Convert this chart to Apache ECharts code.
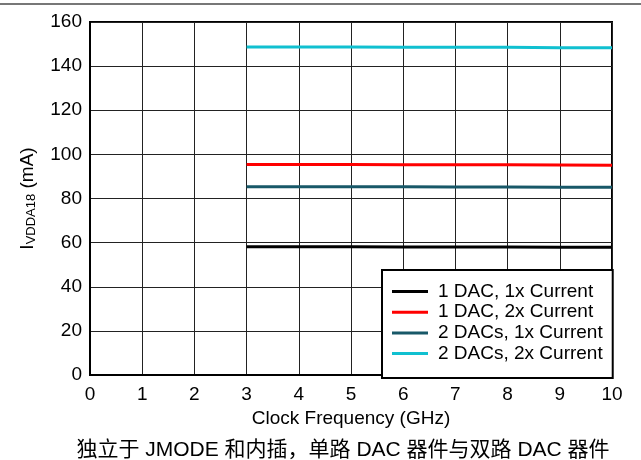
<!DOCTYPE html>
<html>
<head>
<meta charset="utf-8">
<script src="https://cdn.jsdelivr.net/npm/echarts@6/dist/echarts.min.js"></script>
<style>html,body{margin:0;padding:0;background:#fff;}#c{width:641px;height:460px;}</style>
</head>
<body>
<div id="c"></div>
<script>
const freqGHz = [3, 4, 5, 6, 7, 8, 9, 10];
const oneDac1x = [58.1, 58.1, 58.1, 58.0, 58.0, 58.0, 57.9, 57.9];
const oneDac2x = [95.4, 95.4, 95.4, 95.3, 95.3, 95.3, 95.2, 95.1];
const twoDac1x = [85.3, 85.3, 85.3, 85.3, 85.2, 85.2, 85.1, 85.1];
const twoDac2x = [148.7, 148.7, 148.7, 148.6, 148.5, 148.5, 148.3, 148.3];
const seriesNames = ['1 DAC, 1x Current', '1 DAC, 2x Current', '2 DACs, 1x Current', '2 DACs, 2x Current'];
const seriesColors = ['#000000', '#ff0000', '#185868', '#10c0d0'];
const caption = '独立于 JMODE 和内插，单路 DAC 器件与双路 DAC 器件';

const allData = [oneDac1x, oneDac2x, twoDac1x, twoDac2x];
const font = 'Arial, "Liberation Sans", sans-serif';
const fs = 19;
const chart = echarts.init(document.getElementById('c'));
chart.setOption({
  animation: false,
  backgroundColor: '#fff',
  grid: { left: 90, top: 22, width: 522, height: 353, show: true, borderColor: '#000', borderWidth: 2, backgroundColor: 'transparent' },
  xAxis: {
    type: 'value', min: 0, max: 10, interval: 1,
    name: 'Clock Frequency (GHz)', nameLocation: 'middle', nameGap: 24,
    nameTextStyle: { fontFamily: font, fontSize: fs, color: '#000' },
    axisLine: { show: true, lineStyle: { color: '#000', width: 2 } },
    axisTick: { show: false },
    axisLabel: { fontFamily: font, fontSize: fs, color: '#000', margin: 10 },
    splitLine: { show: true, lineStyle: { color: '#222', width: 1 } }
  },
  yAxis: {
    type: 'value', min: 0, max: 160, interval: 20,
    name: '{n|I}{s|VDDA18}{n| (mA)}', nameLocation: 'middle', nameGap: 52,
    nameTextStyle: { rich: { n: { fontFamily: font, fontSize: fs, color: '#000' }, s: { fontFamily: font, fontSize: 13, color: '#000', verticalAlign: 'bottom', padding: [7, 0, 0, 0] } } },
    axisLine: { show: true, lineStyle: { color: '#000', width: 2 } },
    axisTick: { show: false },
    axisLabel: { fontFamily: font, fontSize: fs, color: '#000', margin: 8 },
    splitLine: { show: true, lineStyle: { color: '#222', width: 1 } }
  },
  legend: {
    orient: 'vertical', left: 382, top: 270,
    backgroundColor: '#fff', borderColor: '#000', borderWidth: 2, borderRadius: 0,
    padding: [12, 10, 15, 10], itemGap: 1.7, itemWidth: 36, itemHeight: 3, icon: 'rect',
    textStyle: { fontFamily: font, fontSize: fs, color: '#000', padding: [0, 0, 0, 5] },
    data: seriesNames
  },
  series: seriesNames.map((n, i) => ({
    name: n, type: 'line', showSymbol: false, symbol: 'none',
    data: freqGHz.map((x, j) => [x, allData[i][j]]),
    lineStyle: { color: seriesColors[i], width: 3 }, itemStyle: { color: seriesColors[i] }
  })),
  graphic: [
    { type: 'line', shape: { x1: 0, y1: 4, x2: 641, y2: 4 }, style: { stroke: '#777', lineWidth: 2 } },
    { type: 'text', x: 343, y: 450, style: { x: 0, y: 0, text: caption, font: '21px Arial, "Liberation Sans", "Noto Sans CJK SC", sans-serif', fill: '#000', textAlign: 'center', textVerticalAlign: 'middle' } }
  ]
});
</script>
</body>
</html>
